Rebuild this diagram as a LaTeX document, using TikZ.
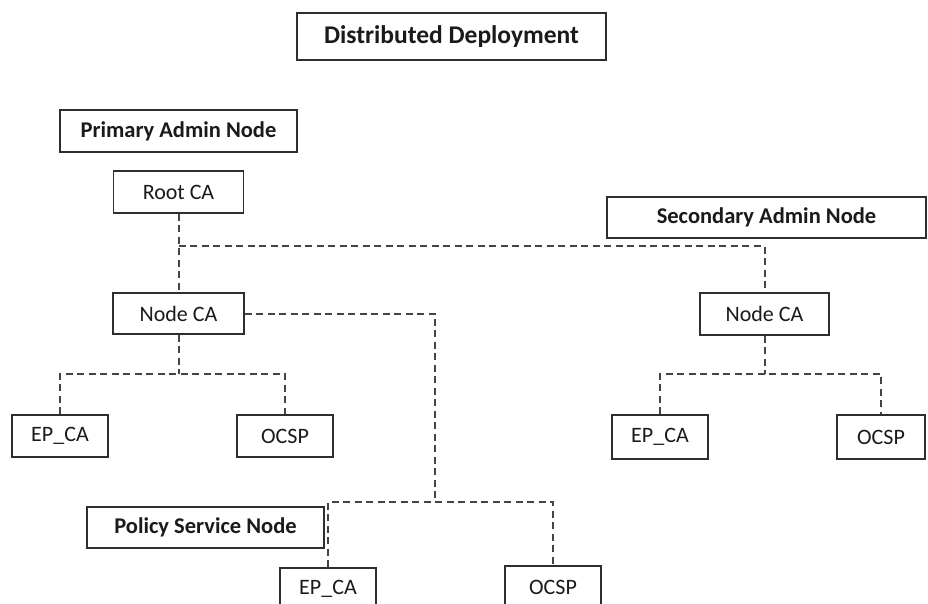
\documentclass[tikz,border=0pt]{standalone}
\usepackage{fontspec}
\setmainfont{Carlito}
\usetikzlibrary{calc}
\definecolor{boxline}{HTML}{2E2E2E}
\definecolor{linkline}{HTML}{444444}
\definecolor{ink}{HTML}{1A1A1A}
\tikzset{
  box/.style={draw=boxline, line width=1.6pt, fill=white, inner sep=0pt,
              text=ink, font=\fontsize{22}{25}\selectfont},
  hbox/.style={box, font=\fontsize{22.5}{25}\selectfont\bfseries},
  link/.style={draw=linkline, line width=2pt, dash pattern=on 7pt off 4.5pt}
}
\begin{document}
\begin{tikzpicture}[x=1pt, y=-1pt]
  \clip (0,0) rectangle (928,603);
  \fill[white] (0,0) rectangle (928,603);

  % heading and role labels
  \node[hbox, minimum width=309pt, minimum height=47pt, font=\fontsize{25.5}{28}\selectfont\bfseries] (title) at (451.5,36.5) {Distributed Deployment};
  \node[hbox, minimum width=237pt, minimum height=42pt] (pan) at (178.5,131) {Primary Admin Node};
  \node[hbox, minimum width=319pt, minimum height=41pt] (san) at (766.5,217.5) {Secondary Admin Node};
  \node[hbox, minimum width=237pt, minimum height=41pt] (psn) at (205.5,527.5) {Policy Service Node};

  % certificate authorities
  \node[box, minimum width=130pt, minimum height=42pt] (root) at (178.5,192) {Root CA};
  \node[box, minimum width=131pt, minimum height=41pt] (nca1) at (178.5,313.5) {Node CA};
  \node[box, minimum width=129pt, minimum height=42pt] (nca2) at (764.5,314) {Node CA};

  % leaf services
  \node[box, minimum width=96pt, minimum height=42pt] (ep1) at (60,436) {EP\_CA};
  \node[box, minimum width=96pt, minimum height=42pt] (ocsp1) at (285,436) {OCSP};
  \node[box, minimum width=96pt, minimum height=44pt] (ep2) at (660,437) {EP\_CA};
  \node[box, minimum width=88pt, minimum height=44pt] (ocsp2) at (881,437) {OCSP};
  \node[box, minimum width=96pt, minimum height=42pt] (ep3) at (328,589) {EP\_CA};
  \node[box, minimum width=96pt, minimum height=42pt] (ocsp3) at (553,587) {OCSP};

  % bus levels
  \coordinate (rootbus) at (0,246);
  \coordinate (bus1) at (0,374);
  \coordinate (bus2) at (0,374);
  \coordinate (psnbus) at (0,502);
  \coordinate (drop) at (435,0);

  % root CA to both node CAs
  \draw[link] (root.south) -- (nca1.north);
  \draw[link] (root.south |- rootbus) -| (nca2.north);

  % primary node CA to its leaves
  \draw[link] (nca1.south) -- (nca1.south |- bus1);
  \draw[link] (ep1.north) |- (ocsp1.north |- bus1) -- (ocsp1.north);

  % secondary node CA to its leaves
  \draw[link] (nca2.south) -- (nca2.south |- bus2);
  \draw[link] (ep2.north) |- (ocsp2.north |- bus2) -- (ocsp2.north);

  % primary node CA to policy service node leaves
  \draw[link] (nca1.east) -- (drop |- nca1.east) -- (drop |- psnbus);
  \draw[link] (ep3.north) |- (ocsp3.north |- psnbus) -- (ocsp3.north);
\end{tikzpicture}
\end{document}
